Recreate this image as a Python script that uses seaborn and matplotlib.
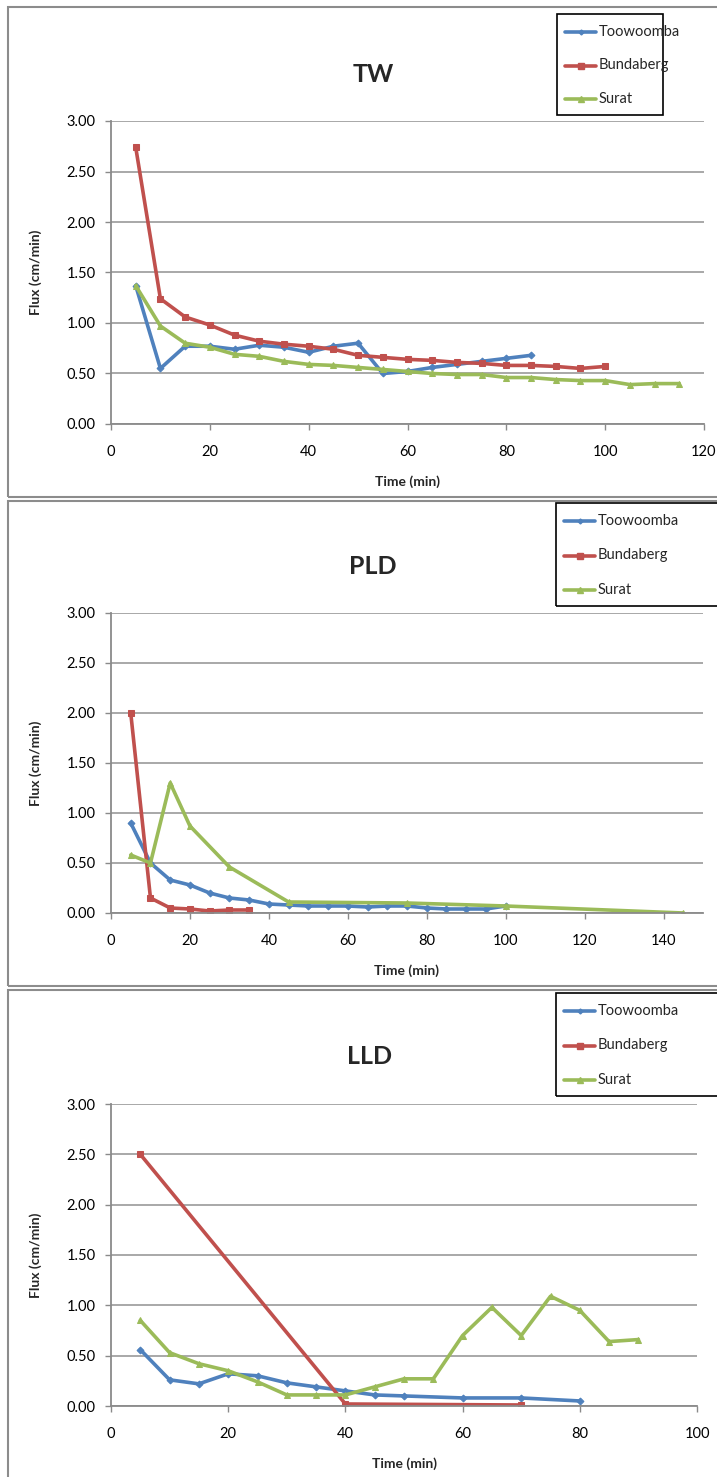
import numpy as np
import pandas as pd
import seaborn as sns
import matplotlib.pyplot as plt
from matplotlib.patches import Rectangle
from matplotlib.lines import Line2D

# TW
tw_time_too = [5, 10, 15, 20, 25, 30, 35, 40, 45, 50, 55, 60, 65, 70, 75, 80, 85]
tw_too = [1.37, 0.55, 0.77, 0.77, 0.74, 0.78, 0.76, 0.71, 0.77, 0.80, 0.50, 0.52, 0.56, 0.59, 0.62, 0.65, 0.68]
tw_time_bun = [5, 10, 15, 20, 25, 30, 35, 40, 45, 50, 55, 60, 65, 70, 75, 80, 85, 90, 95, 100]
tw_bun = [2.74, 1.24, 1.06, 0.98, 0.88, 0.82, 0.79, 0.77, 0.74, 0.68, 0.66, 0.64, 0.63, 0.61, 0.60, 0.58, 0.58, 0.57, 0.55, 0.57]
tw_time_sur = [5, 10, 15, 20, 25, 30, 35, 40, 45, 50, 55, 60, 65, 70, 75, 80, 85, 90, 95, 100, 105, 110, 115]
tw_sur = [1.37, 0.97, 0.80, 0.76, 0.69, 0.67, 0.62, 0.59, 0.58, 0.56, 0.54, 0.52, 0.50, 0.49, 0.49, 0.46, 0.46, 0.44, 0.43, 0.43, 0.39, 0.40, 0.40]

# PLD
pld_time_too = [5, 10, 15, 20, 25, 30, 35, 40, 45, 50, 55, 60, 65, 70, 75, 80, 85, 90, 95, 100]
pld_too = [0.90, 0.50, 0.33, 0.28, 0.20, 0.15, 0.13, 0.09, 0.08, 0.07, 0.07, 0.07, 0.06, 0.07, 0.07, 0.05, 0.04, 0.04, 0.04, 0.07]
pld_time_bun = [5, 10, 15, 20, 25, 30, 35]
pld_bun = [2.00, 0.15, 0.05, 0.04, 0.02, 0.03, 0.03]
pld_time_sur = [5, 10, 15, 20, 30, 45, 75, 100, 145]
pld_sur = [0.58, 0.50, 1.30, 0.87, 0.46, 0.11, 0.10, 0.07, 0.00]

# LLD
lld_time_too = [5, 10, 15, 20, 25, 30, 35, 40, 45, 50, 60, 70, 80]
lld_too = [0.56, 0.26, 0.22, 0.32, 0.30, 0.23, 0.19, 0.15, 0.11, 0.10, 0.08, 0.08, 0.05]
lld_time_bun = [5, 40, 70]
lld_bun = [2.50, 0.02, 0.01]
lld_time_sur = [5, 10, 15, 20, 25, 30, 35, 40, 45, 50, 55, 60, 65, 70, 75, 80, 85, 90]
lld_sur = [0.85, 0.53, 0.42, 0.35, 0.24, 0.11, 0.11, 0.11, 0.19, 0.27, 0.27, 0.70, 0.98, 0.70, 1.09, 0.95, 0.64, 0.66]

sites = ["Toowoomba", "Bundaberg", "Surat"]
palette = {"Toowoomba": "#4F81BD", "Bundaberg": "#C0504D", "Surat": "#9BBB59"}
markers = {"Toowoomba": "D", "Bundaberg": "s", "Surat": "^"}
msize = {"Toowoomba": 3.5, "Bundaberg": 5, "Surat": 5}


def make_df(times, values):
    parts = []
    for site, t, v in zip(sites, times, values):
        parts.append(pd.DataFrame({"time": t, "flux": v, "site": site}))
    return pd.concat(parts, ignore_index=True)


panels = [
    ("TW", make_df([tw_time_too, tw_time_bun, tw_time_sur], [tw_too, tw_bun, tw_sur]),
     120, (111, 704, 121, 424), (7, 497), (557, 663, 14, 115)),
    ("PLD", make_df([pld_time_too, pld_time_bun, pld_time_sur], [pld_too, pld_bun, pld_sur]),
     150, (111, 703, 613, 913), (501, 986), (556, 730, 503, 606)),
    ("LLD", make_df([lld_time_too, lld_time_bun, lld_time_sur], [lld_too, lld_bun, lld_sur]),
     100, (111, 697, 1104, 1406), (990, 1490), (556, 730, 993, 1096)),
]

W, H = 717, 1477
sns.set_style("white")
plt.rcParams["font.family"] = ["Lato", "DejaVu Sans"]
fig = plt.figure(figsize=(W / 100, H / 100), dpi=100)


def fx(px):
    return px / W


def fy(py):
    return 1 - py / H


for title, df, xmax, (x0, x1, y0, y1), (by0, by1), (lx0, lx1, ly0, ly1) in panels:
    # chart area border
    fig.patches.append(Rectangle((fx(8), fy(by1)), fx(760) - fx(8), fy(by0) - fy(by1),
                                 transform=fig.transFigure, fill=False,
                                 edgecolor="#8c8c8c", linewidth=1.5))
    ax = fig.add_axes([fx(x0), fy(y1), fx(x1) - fx(x0), fy(y0) - fy(y1)])
    for site in sites:
        sub = df[df["site"] == site]
        sns.lineplot(data=sub, x="time", y="flux", color=palette[site],
                     marker=markers[site], markersize=msize[site],
                     markeredgecolor=palette[site], linewidth=2.6,
                     ax=ax, legend=False, sort=False)
    ax.set_xlim(0, xmax)
    ax.set_ylim(0, 3.0)
    ax.set_xticks(np.arange(0, 141, 20) if xmax == 150 else np.arange(0, xmax + 1, 20))
    ax.set_yticks(np.arange(0, 3.01, 0.5))
    ax.set_yticklabels([f"{v:.2f}" for v in np.arange(0, 3.01, 0.5)])
    ax.yaxis.grid(True, color="#9a9a9a", linewidth=1.2)
    ax.set_axisbelow(True)
    for s in ["top", "right"]:
        ax.spines[s].set_visible(False)
    for s in ["left", "bottom"]:
        ax.spines[s].set_color("#8a8a8a")
        ax.spines[s].set_linewidth(1.3)
    ax.tick_params(axis="both", direction="out", length=4, width=1, color="#8a8a8a",
                   labelsize=10.5, labelcolor="black")
    ax.tick_params(axis="x", pad=11, bottom=True)
    ax.tick_params(axis="y", pad=7, left=True)
    ax.set_xlabel("")
    ax.set_ylabel("")

    fig.text(fx((x0 + x1) / 2 - 34), fy(y0 - 47), title, ha="center", va="center",
             fontsize=18, fontweight="bold")
    fig.text(fx((x0 + x1) / 2), fy(y1 + 58), "Time (min)", ha="center", va="center",
             fontsize=10, fontweight="bold")
    fig.text(fx(36), fy((y0 + y1) / 2), "Flux (cm/min)", ha="center", va="center",
             rotation=90, fontsize=10, fontweight="bold")

    # legend box
    fig.patches.append(Rectangle((fx(lx0), fy(ly1)), fx(lx1) - fx(lx0), fy(ly0) - fy(ly1),
                                 transform=fig.transFigure, fill=False,
                                 edgecolor="black", linewidth=1.2))
    step = (ly1 - ly0) / 3
    for i, site in enumerate(sites):
        yy = fy(ly0 + step * (i + 0.5) + 1)
        fig.add_artist(Line2D([fx(lx0 + 8), fx(lx0 + 39)], [yy, yy], color=palette[site],
                              linewidth=2.6, transform=fig.transFigure))
        fig.add_artist(Line2D([fx(lx0 + 23.5)], [yy], color=palette[site], marker=markers[site],
                              markersize=msize[site] - 1, transform=fig.transFigure))
        fig.text(fx(lx0 + 42), yy, site, ha="left", va="center", fontsize=10.5)

fig.savefig("out.png", dpi=100)
